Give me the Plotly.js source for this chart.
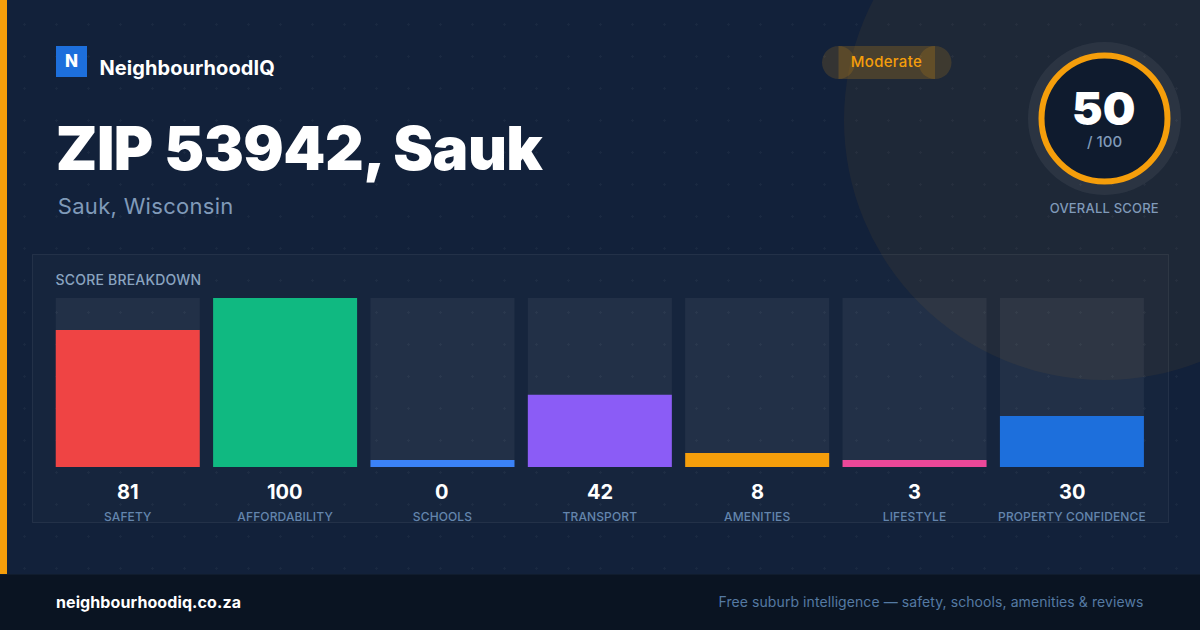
<!DOCTYPE html>
<html>
<head>
<meta charset="utf-8">
<script src="https://cdn.plot.ly/plotly-3.0.1.min.js"></script>
<style>
html,body{margin:0;padding:0;width:1200px;height:630px;overflow:hidden;
background-color:#12213a;
background-image:radial-gradient(circle at 24.5px 24.5px,rgba(255,255,255,.035) 1px,transparent 1.2px);
background-size:32px 32px;}
#chart{width:1200px;height:630px;}
.xtick text{letter-spacing:.12px;}
</style>
</head>
<body>
<div id="chart"></div>
<script>
const categories = ['SAFETY','AFFORDABILITY','SCHOOLS','TRANSPORT','AMENITIES','LIFESTYLE','PROPERTY CONFIDENCE'];
const scores = [81,100,0,42,8,3,30];
// bar heights as measured on the picture, in percent of the track (small scores have a visible floor)
const drawnHeights = [81.1,100,4.1,42.7,8.3,4.1,30.2];
const barColors = ['#ef4444','#10b981','#3b82f6','#8b5cf6','#f59e0b','#ec4899','#1d6fdc'];
const trackMax = 100;
const overallScore = 50;

const W = 1200, H = 630;
const fx = x => x / W, fy = y => 1 - y / H;
const FONT = 'Inter, sans-serif';

function circle(cx, cy, r, fill, line, lw) {
  return {type:'circle', xref:'paper', yref:'paper', layer:'below',
    x0:fx(cx-r), x1:fx(cx+r), y0:fy(cy+r), y1:fy(cy-r),
    fillcolor:fill||'rgba(0,0,0,0)', line:{color:line||'rgba(0,0,0,0)', width:lw||0}};
}
function rect(x0, y0, x1, y1, fill, line, lw) {
  return {type:'rect', xref:'paper', yref:'paper', layer:'below',
    x0:fx(x0), x1:fx(x1), y0:fy(y1), y1:fy(y0),
    fillcolor:fill, line:{color:line||'rgba(0,0,0,0)', width:lw||0}};
}
function label(text, x, y, size, color, weight) {
  return {text:text, xref:'paper', yref:'paper', x:fx(x), y:fy(y), showarrow:false,
    xanchor:'center', yanchor:'middle', borderpad:0, borderwidth:0,
    font:{family:FONT, size:size, color:color, weight:weight||400}};
}

const shapes = [
  rect(32.5,254.5,1168.5,522.5,'rgba(255,255,255,0.02)','rgba(255,255,255,0.07)',1),
  circle(1104,120,260,'rgba(245,158,11,0.06)'),
  rect(0,0,7,574,'#f59e0b'),
  rect(0,574,1200,630,'#0a1422'),
  rect(0,574,1200,575,'#101c2d'),
  rect(56,46,87,77,'#1d6fdc'),
  circle(838.5,62.5,16.5,'rgba(245,158,11,0.15)'),
  circle(935,62.5,16.5,'rgba(245,158,11,0.15)'),
  rect(838.5,46,935,79,'rgba(245,158,11,0.2)'),
  circle(1104.5,118.5,76.5,'rgba(255,255,255,0.06)'),
  circle(1104.5,118.5,63,'#0f1b2e','#f59e0b',6)
];

const spacing = [];
function add(arr, ann, ls){ arr.push(ann); spacing.push(ls||0); }
const annotations = [];
add(annotations,label('N',71.5,61,17,'#ffffff',800));
add(annotations,label('NeighbourhoodIQ',187.3,68,20,'#ffffff',700),0.08);
add(annotations,label('ZIP 53942, Sauk',299.5,148,60,'#ffffff',900),-0.5);
add(annotations,label('Sauk, Wisconsin',145.7,206,22,'#809ab9',400),0.3);
add(annotations,label('Moderate',886.5,61.5,15,'#f59e0b',500),0.3);
add(annotations,label(String(overallScore),1103.5,108,46,'#ffffff',900));
add(annotations,label('/ 100',1104.5,141,15,'#809ab9',500));
add(annotations,label('OVERALL SCORE',1104.5,208,13,'#809ab9',500),0.2);
add(annotations,label('SCORE BREAKDOWN',128.7,279.5,14,'#8aa4c0',500),0.2);
add(annotations,label('neighbourhoodiq.co.za',148.5,602,16,'#ffffff',700),0.1);
add(annotations,label('Free suburb intelligence — safety, schools, amenities & reviews',930.5,601.5,14,'#557aa3',400),0.08);
categories.forEach((c,i)=>{
  add(annotations,{text:String(scores[i]), xref:'x', yref:'paper', x:c, y:fy(492), showarrow:false,
    xanchor:'center', yanchor:'middle', borderpad:0,
    font:{family:FONT,size:20,color:'#ffffff',weight:700}});
});

const barFrac = 0.9151;
const traces = [
  {type:'bar', x:categories, y:categories.map(()=>trackMax), width:barFrac,
   marker:{color:'rgba(255,255,255,0.055)',line:{width:0}}, hoverinfo:'skip', showlegend:false},
  {type:'bar', x:categories, y:drawnHeights, width:barFrac,
   marker:{color:barColors,line:{width:0}}, showlegend:false}
];

const layout = {
  width:W, height:H, margin:{l:0,r:0,t:0,b:0,pad:0},
  paper_bgcolor:'rgba(0,0,0,0)', plot_bgcolor:'rgba(0,0,0,0)',
  barmode:'overlay', showlegend:false,
  xaxis:{domain:[49.07/W,(49.07+1101.52)/W], type:'category', range:[-0.5,6.5], fixedrange:true,
    showgrid:false, zeroline:false, showline:false, ticks:'', ticklen:0, tickangle:0,
    ticklabelstandoff:41, automargin:false,
    tickfont:{family:FONT,size:12,color:'#6485ad',weight:500}},
  yaxis:{domain:[fy(467),fy(298)], range:[0,trackMax], fixedrange:true, visible:false, automargin:false},
  shapes:shapes, annotations:annotations
};
function applySpacing(){
  document.querySelectorAll('#chart g.annotation').forEach(g=>{
    const i = +g.getAttribute('data-index');
    const t = g.querySelector('text');
    if (t && spacing[i]) t.style.letterSpacing = spacing[i]+'px';
  });
}
Plotly.newPlot('chart',traces,layout,{staticPlot:true,displayModeBar:false}).then(applySpacing);
</script>
</body>
</html>
